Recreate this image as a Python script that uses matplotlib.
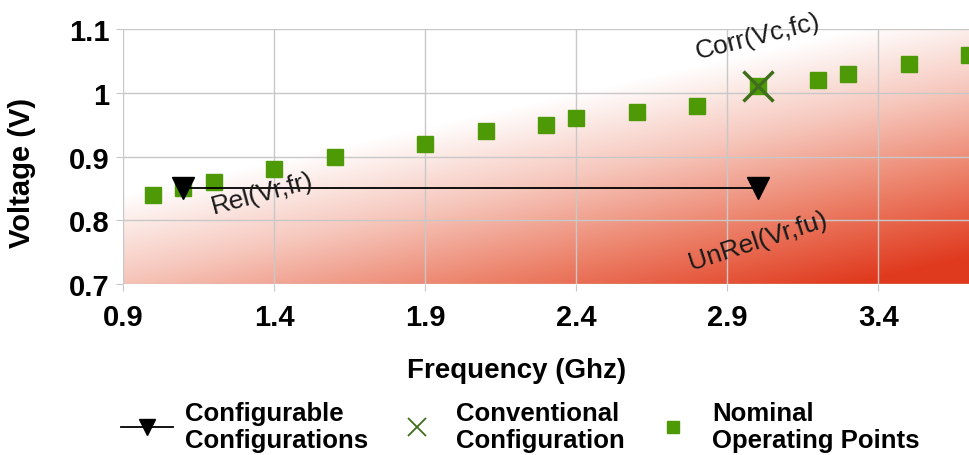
import numpy as np
import matplotlib
matplotlib.use("Agg")
import matplotlib.pyplot as plt
from matplotlib.colors import LinearSegmentedColormap

plt.rcParams['font.family'] = ['Liberation Sans', 'DejaVu Sans']

# nominal operating points
freq = [1.0, 1.1, 1.2, 1.4, 1.6, 1.9, 2.1, 2.3, 2.4, 2.6, 2.8, 3.0, 3.2, 3.3, 3.5, 3.7]
volt = [0.84, 0.85, 0.86, 0.88, 0.90, 0.92, 0.94, 0.95, 0.96, 0.97, 0.98, 1.01, 1.02, 1.03, 1.045, 1.06]

# configurable configurations (reliable -> unreliable)
cfg_freq = [1.1, 3.0]
cfg_volt = [0.85, 0.85]

# conventional configuration
conv_freq = [3.0]
conv_volt = [1.01]

xticks = [0.9, 1.4, 1.9, 2.4, 2.9, 3.4]
yticks = [0.7, 0.8, 0.9, 1.0, 1.1]
ytick_labels = ['0.7', '0.8', '0.9', '1', '1.1']

fig = plt.figure(figsize=(9.69, 4.56), dpi=100)
ax = fig.add_axes([0.127, 0.375, 0.873, 0.559])

# red gradient background (white top-left -> red bottom-right)
u, v = np.meshgrid(np.linspace(0, 1, 400), np.linspace(0, 1, 200))
t = np.clip(0.75 * u + (1 - v) - 0.65, 0, 1)
cmap = LinearSegmentedColormap.from_list('wr', ['#ffffff', '#f6c6bb', '#ec8068', '#e03a1e'])
ax.imshow(t, cmap=cmap, vmin=0, vmax=1, origin='lower', extent=[0, 1, 0, 1],
          transform=ax.transAxes, aspect='auto', zorder=0, interpolation='bilinear')

ax.plot(cfg_freq, cfg_volt, color='black', lw=1.3, marker='v', markersize=16,
        label='Configurable\nConfigurations', zorder=4)
ax.plot(conv_freq, conv_volt, linestyle='none', marker='x', markersize=22, mew=2.5,
        color='#3f6f1a', label='Conventional\nConfiguration', zorder=5)
ax.plot(freq, volt, linestyle='none', marker='s', markersize=12, color='#4e9a06',
        label='Nominal\nOperating Points', zorder=3, clip_on=True)

ax.text(1.36, 0.843, 'Rel(Vr,fr)', fontsize=19, rotation=15, ha='center', va='center',
        color='#1a1a1a', zorder=6)
ax.text(3.0, 1.089, 'Corr(Vc,fc)', fontsize=19, rotation=14, ha='center', va='center',
        color='#1a1a1a', zorder=6)
ax.text(3.0, 0.768, 'UnRel(Vr,fu)', fontsize=19, rotation=18, ha='center', va='center',
        color='#1a1a1a', zorder=6)

ax.set_xlim(0.9, 3.7)
ax.set_ylim(0.7, 1.1)
ax.set_xticks(xticks)
ax.set_xticklabels([str(x) for x in xticks])
ax.set_yticks(yticks)
ax.set_yticklabels(ytick_labels)
ax.grid(True, color='#c8c8c8', lw=1, zorder=1)
ax.set_axisbelow(False)
for s in ax.spines.values():
    s.set_visible(False)
ax.tick_params(axis='both', length=5, color='#c8c8c8', labelsize=21)
ax.tick_params(axis='x', pad=9)
ax.tick_params(axis='y', pad=5)
for lab in ax.get_xticklabels() + ax.get_yticklabels():
    lab.set_fontweight('bold')

ax.set_xlabel('Frequency (Ghz)', fontsize=20, fontweight='bold')
ax.set_ylabel('Voltage (V)', fontsize=21, fontweight='bold')
ax.xaxis.label.set_va('center')
ax.yaxis.label.set_va('center')
ax.yaxis.label.set_ha('center')
ax.xaxis.set_label_coords((517 - 123) / 846, -(371 - 285) / 255)
ax.yaxis.set_label_coords(-(123 - 22) / 846, (285 - 173) / 255)

leg = fig.legend(loc='lower center', bbox_to_anchor=(0.537, -0.045), ncol=3, frameon=False,
                 prop={'weight': 'bold', 'size': 18.5}, columnspacing=0.9, handlelength=2,
                 handletextpad=0.5, labelspacing=0.2)
hs = leg.legend_handles
hs[0].set_markersize(12)
hs[1].set_markersize(13)
hs[1].set_markeredgewidth(1.3)
hs[2].set_markersize(9)

fig.savefig('out.png', dpi=100)
